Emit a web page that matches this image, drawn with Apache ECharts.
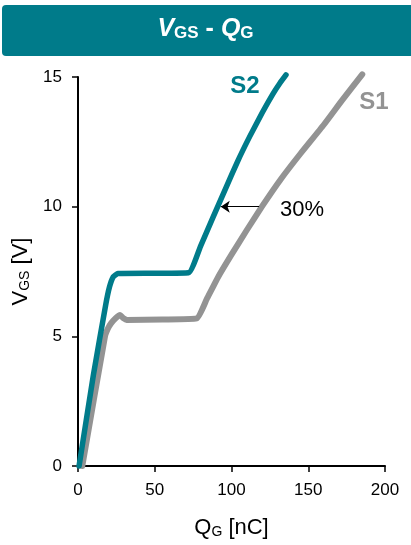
<!DOCTYPE html>
<html>
<head>
<meta charset="utf-8">
<script src="https://cdn.jsdelivr.net/npm/echarts@6/dist/echarts.min.js"></script>
<style>
html, body { margin: 0; padding: 0; background: #fff; }
#main { width: 411px; height: 545px; }
</style>
</head>
<body>
<div id="main"></div>
<script>
// Q_G (nC) / V_GS (V)
var qS1 = [2.8, 17.6, 19.5, 21.5, 24.5, 27.4, 29.5, 31.7, 55, 77.3, 84, 91.4, 100, 110, 120, 132, 145, 160, 172, 185.2];
var vS1 = [0, 5.0, 5.3, 5.5, 5.7, 5.82, 5.7, 5.63, 5.65, 5.69, 6.45, 7.3, 8.15, 9.1, 10.02, 11.05, 12.05, 13.15, 14.1, 15.1];
var qS2 = [0.7, 10, 18, 20.5, 23, 26, 50, 72, 80, 88, 96, 104, 112, 120, 127, 131.5, 135.5];
var vS2 = [0, 3.5, 6.2, 6.9, 7.3, 7.42, 7.43, 7.45, 8.5, 9.6, 10.68, 11.75, 12.72, 13.62, 14.35, 14.76, 15.08];

var xTicks = [0, 50, 100, 150, 200];
var yTicks = [0, 5, 10, 15];

// arrow S1 -> S2 at V_GS = 10 V
var arrowFrom = [118, 10];
var arrowTo = [93, 10];
var arrowText = '30%';
var labelS1 = [192.8, 14.04];
var labelS2 = [108.8, 14.63];
var label30 = [146, 9.87];

var TEAL = '#007B8A';
var GREY = '#939393';
var FONT = 'Liberation Sans, Arial, sans-serif';

function pairs(xs, ys) {
    var out = [];
    for (var i = 0; i < xs.length; i++) out.push([xs[i], ys[i]]);
    return out;
}

var chart = echarts.init(document.getElementById('main'), null, {renderer: 'canvas'});

var option = {
    animation: false,
    backgroundColor: '#fff',
    graphic: [{
        type: 'rect',
        shape: {x: 2, y: 5, width: 412, height: 51, r: 4},
        style: {fill: TEAL},
        z: -1
    }],
    title: {
        text: '{v|V}{s|GS}{d| - }{v|Q}{s|G}',
        left: 'center',
        top: 9,
        textStyle: {
            color: '#fff',
            fontFamily: FONT,
            rich: {
                v: {fontSize: 25, fontWeight: 'bold', fontStyle: 'italic', color: '#fff', fontFamily: FONT, lineHeight: 28, verticalAlign: 'bottom'},
                s: {fontSize: 17, fontWeight: 'bold', color: '#fff', fontFamily: FONT, lineHeight: 17, verticalAlign: 'bottom'},
                d: {fontSize: 25, fontWeight: 'bold', color: '#fff', fontFamily: FONT, lineHeight: 28, verticalAlign: 'bottom'}
            }
        }
    },
    grid: {left: 78, right: 26, top: 77, bottom: 79, containLabel: false},
    xAxis: {
        type: 'value',
        min: xTicks[0],
        max: xTicks[xTicks.length - 1],
        interval: 50,
        name: '{v|Q}{s|G}{v| [nC]}',
        nameLocation: 'middle',
        nameGap: 47,
        nameTextStyle: {
            rich: {
                v: {fontSize: 22, color: '#000', fontFamily: FONT, lineHeight: 26, verticalAlign: 'bottom'},
                s: {fontSize: 14, color: '#000', fontFamily: FONT, lineHeight: 14, verticalAlign: 'bottom'}
            }
        },
        axisLine: {lineStyle: {color: '#000', width: 2}},
        axisTick: {show: true, inside: false, length: 6, lineStyle: {color: '#000', width: 1.5}},
        axisLabel: {fontSize: 17, color: '#000', fontFamily: FONT, margin: 16},
        splitLine: {show: false}
    },
    yAxis: {
        type: 'value',
        min: yTicks[0],
        max: yTicks[yTicks.length - 1],
        interval: 5,
        name: '{v|V}{s|GS}{v| [V]}',
        nameLocation: 'middle',
        nameGap: 45,
        nameTextStyle: {
            rich: {
                v: {fontSize: 22, color: '#000', fontFamily: FONT, lineHeight: 25, verticalAlign: 'bottom'},
                s: {fontSize: 14, color: '#000', fontFamily: FONT, lineHeight: 14, verticalAlign: 'bottom'}
            }
        },
        axisLine: {show: true, lineStyle: {color: '#000', width: 2}},
        axisTick: {show: true, inside: false, length: 6, lineStyle: {color: '#000', width: 1.5}},
        axisLabel: {fontSize: 17, color: '#000', fontFamily: FONT, margin: 16},
        splitLine: {show: false}
    },
    series: [
        {
            name: 'S1',
            type: 'line',
            data: pairs(qS1, vS1),
            showSymbol: false,
            smooth: 0.15,
            clip: false,
            lineStyle: {color: GREY, width: 6, cap: 'round', join: 'round'},
            itemStyle: {color: GREY},
            z: 2,
            markPoint: {
                silent: true,
                symbol: 'circle',
                symbolSize: 0,
                label: {show: true, position: 'inside', formatter: '{b}', fontSize: 24, fontWeight: 'bold', color: GREY, fontFamily: FONT},
                data: [{name: 'S1', coord: labelS1}]
            },
            markLine: {
                silent: true,
                symbol: ['none', 'arrow'],
                symbolSize: 9,
                lineStyle: {color: '#000', width: 1, type: 'solid'},
                label: {show: false},
                data: [[{coord: arrowFrom}, {coord: arrowTo}]]
            }
        },
        {
            name: 'S2',
            type: 'line',
            data: pairs(qS2, vS2),
            showSymbol: false,
            smooth: 0.15,
            clip: false,
            lineStyle: {color: TEAL, width: 5.5, cap: 'round', join: 'round'},
            itemStyle: {color: TEAL},
            z: 3,
            markPoint: {
                silent: true,
                symbol: 'circle',
                symbolSize: 0,
                label: {show: true, position: 'inside', formatter: '{b}', fontFamily: FONT},
                data: [
                    {name: 'S2', coord: labelS2, label: {fontSize: 24, fontWeight: 'bold', color: TEAL}},
                    {name: arrowText, coord: label30, label: {fontSize: 22, color: '#000'}}
                ]
            }
        }
    ]
};

chart.setOption(option);
</script>
</body>
</html>
